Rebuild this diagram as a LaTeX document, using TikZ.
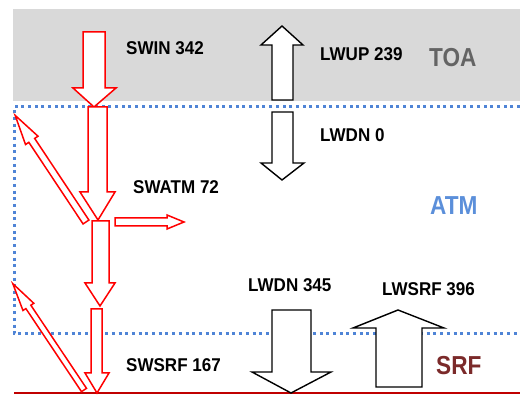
\documentclass[tikz,border=0pt]{standalone}
\usepackage{fontspec}
\setmainfont{Liberation Sans}
\newfontfamily\labfont[FakeStretch=0.92]{Liberation Sans Bold}
\newfontfamily\regfont[FakeStretch=0.87]{Liberation Sans Bold}
\definecolor{dotblue}{HTML}{4F84D6}
\definecolor{atmblue}{HTML}{5B8FDA}
\definecolor{srfred}{HTML}{7B2A2A}
\definecolor{toagray}{HTML}{646464}
\definecolor{bandgray}{HTML}{D9D9D9}
\definecolor{lineRed}{HTML}{C00000}
\begin{document}
\begin{tikzpicture}[x=1pt,y=-1pt,
  redarrow/.style={draw=red, line width=1.5pt, fill=white, line join=miter},
  blackarrow/.style={draw=black, line width=1.4pt, fill=white, line join=miter},
  lab/.style={font=\labfont\fontsize{18.5}{18.5}\selectfont, inner sep=0pt, anchor=west},
  region/.style={font=\regfont\fontsize{26}{26}\selectfont, inner sep=0pt, anchor=west},
  dotline/.style={draw=dotblue, line width=3pt, dash pattern=on 3pt off 3.7pt}]
\useasboundingbox (0,0) rectangle (520,395);
% TOA band
\fill[bandgray] (13,9) rectangle (520,101);
% ATM dotted box
\draw[dotline] (520,107) -- (14,107) -- (14,334) -- (520,334);
% surface line
\draw[lineRed, line width=2pt] (14,393) -- (520,393);
% shortwave arrows
\draw[redarrow] (83,32) -- (105,32) -- (105,88) -- (116,88) -- (94,107) -- (73,88) -- (83,88) -- cycle;
\draw[redarrow] (88,107) -- (107,107) -- (107,192) -- (115,192) -- (98,220) -- (80,192) -- (88,192) -- cycle;
\draw[redarrow] (92,221) -- (109,221) -- (109,283) -- (115,283) -- (100,306) -- (85,283) -- (92,283) -- cycle;
\draw[redarrow] (91,309) -- (102,309) -- (102,373) -- (109,373) -- (97,393) -- (85,373) -- (91,373) -- cycle;
\draw[redarrow] (115,218) -- (167,218) -- (167,215) -- (184,222) -- (167,229) -- (167,226) -- (115,226) -- cycle;
% reflected arrows (base -> tip, rotated frame)
\begin{scope}[shift={(86,222)}, rotate=123.6]
  \draw[redarrow] (0,-3.5) -- (98,-3.5) -- (98,-7.5) -- (128,0) -- (98,7.5) -- (98,3.5) -- (0,3.5) -- cycle;
\end{scope}
\begin{scope}[shift={(84,390)}, rotate=123.8]
  \draw[redarrow] (0,-3) -- (100,-3) -- (100,-6.5) -- (128,0) -- (100,6.5) -- (100,3) -- (0,3) -- cycle;
\end{scope}
% longwave arrows
\draw[blackarrow] (272,100) -- (293,100) -- (293,45) -- (303,45) -- (282,26) -- (261,45) -- (272,45) -- cycle;
\draw[blackarrow] (272,112) -- (293,112) -- (293,163) -- (304,163) -- (282,180) -- (261,163) -- (272,163) -- cycle;
\draw[blackarrow] (272,310) -- (311,310) -- (311,372) -- (331,372) -- (291,393) -- (252,372) -- (272,372) -- cycle;
\draw[blackarrow] (376,387) -- (422,387) -- (422,328) -- (444,328) -- (398,310) -- (353,328) -- (376,328) -- cycle;
% labels
\node[lab] (swin) at (126,48.5) {SWIN 342};
\node[lab] (lwup) at (320,54) {LWUP 239};
\node[lab] (lwdn0) at (320,135.5) {LWDN 0};
\node[lab] (swatm) at (133,187) {SWATM 72};
\node[lab] (lwdn) at (248,285.5) {LWDN 345};
\node[lab] (lwsrf) at (382,289.5) {LWSRF 396};
\node[lab] (swsrf) at (126,365.5) {SWSRF 167};
\node[region, text=toagray] (toa) at (429,57.5) {TOA};
\node[region, text=atmblue] (atm) at (430,205.5) {ATM};
\node[region, text=srfred] (srf) at (436,366) {SRF};
\end{tikzpicture}
\end{document}
